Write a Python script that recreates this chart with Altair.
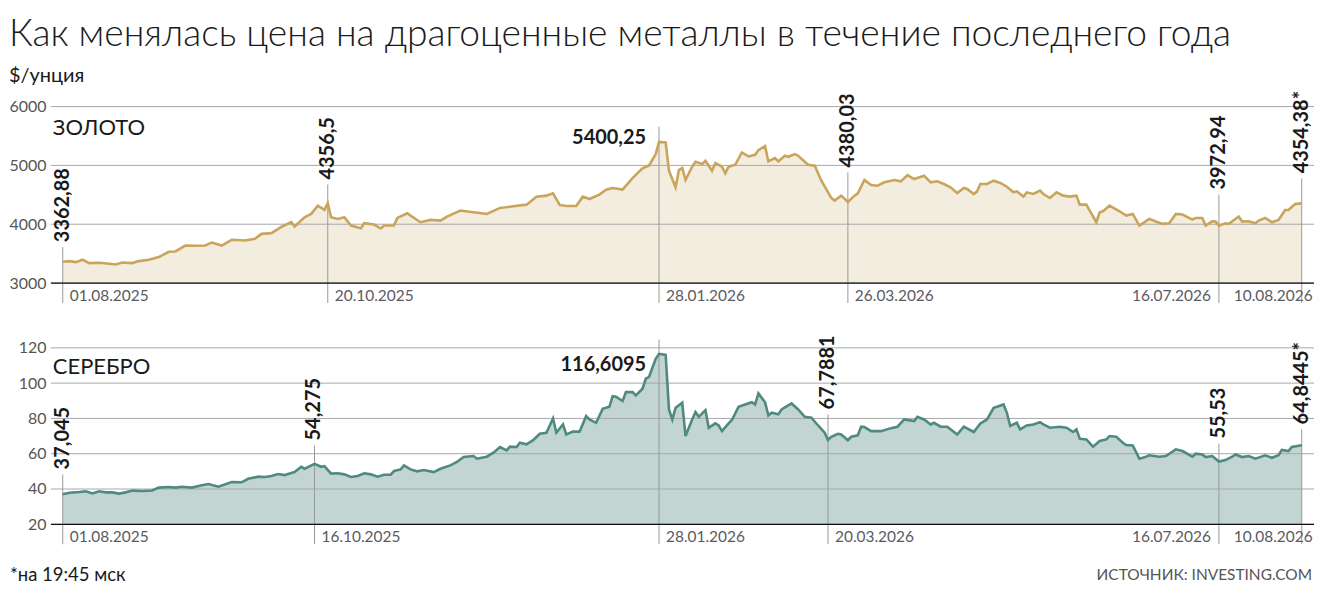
import altair as alt
import pandas as pd

# ---------------- data ----------------
GOLD_DATES = [
    "2025-08-01", "2025-08-03", "2025-08-05", "2025-08-07", "2025-08-09", "2025-08-12", "2025-08-15",
    "2025-08-17", "2025-08-19", "2025-08-22", "2025-08-24", "2025-08-27", "2025-08-30", "2025-09-02",
    "2025-09-04", "2025-09-07", "2025-09-10", "2025-09-13", "2025-09-15", "2025-09-18", "2025-09-21",
    "2025-09-25", "2025-09-28", "2025-09-30", "2025-10-03", "2025-10-06", "2025-10-09", "2025-10-10",
    "2025-10-13", "2025-10-15", "2025-10-17", "2025-10-19", "2025-10-20", "2025-10-21", "2025-10-23",
    "2025-10-25", "2025-10-27", "2025-10-30", "2025-10-31", "2025-11-03", "2025-11-05", "2025-11-06",
    "2025-11-09", "2025-11-10", "2025-11-13", "2025-11-14", "2025-11-17", "2025-11-20", "2025-11-23",
    "2025-11-25", "2025-11-29", "2025-12-03", "2025-12-07", "2025-12-11", "2025-12-15", "2025-12-19",
    "2025-12-22", "2025-12-25", "2025-12-27", "2025-12-29", "2025-12-31", "2026-01-03", "2026-01-05",
    "2026-01-07", "2026-01-10", "2026-01-12", "2026-01-14", "2026-01-17", "2026-01-20", "2026-01-23",
    "2026-01-25", "2026-01-27", "2026-01-28", "2026-01-30", "2026-01-31", "2026-02-02", "2026-02-03",
    "2026-02-04", "2026-02-05", "2026-02-07", "2026-02-08", "2026-02-10", "2026-02-11", "2026-02-13",
    "2026-02-14", "2026-02-16", "2026-02-17", "2026-02-18", "2026-02-20", "2026-02-22", "2026-02-24",
    "2026-02-26", "2026-02-27", "2026-03-01", "2026-03-02", "2026-03-04", "2026-03-05", "2026-03-07",
    "2026-03-08", "2026-03-10", "2026-03-11", "2026-03-14", "2026-03-16", "2026-03-18", "2026-03-21",
    "2026-03-22", "2026-03-24", "2026-03-26", "2026-03-28", "2026-03-29", "2026-03-31", "2026-04-02",
    "2026-04-04", "2026-04-06", "2026-04-09", "2026-04-11", "2026-04-13", "2026-04-15", "2026-04-18",
    "2026-04-20", "2026-04-22", "2026-04-24", "2026-04-26", "2026-04-28", "2026-04-30", "2026-05-01",
    "2026-05-03", "2026-05-04", "2026-05-05", "2026-05-07", "2026-05-09", "2026-05-11", "2026-05-13",
    "2026-05-15", "2026-05-16", "2026-05-18", "2026-05-19", "2026-05-21", "2026-05-23", "2026-05-24",
    "2026-05-26", "2026-05-28", "2026-05-30", "2026-06-01", "2026-06-03", "2026-06-04", "2026-06-06",
    "2026-06-07", "2026-06-09", "2026-06-10", "2026-06-11", "2026-06-13", "2026-06-16", "2026-06-18",
    "2026-06-20", "2026-06-22", "2026-06-25", "2026-06-27", "2026-06-29", "2026-07-01", "2026-07-03",
    "2026-07-05", "2026-07-08", "2026-07-09", "2026-07-11", "2026-07-12", "2026-07-14", "2026-07-15",
    "2026-07-16", "2026-07-18", "2026-07-19", "2026-07-22", "2026-07-23", "2026-07-25", "2026-07-27",
    "2026-07-28", "2026-07-30", "2026-08-01", "2026-08-03", "2026-08-05", "2026-08-06", "2026-08-08",
    "2026-08-10",
]
GOLD_VALUES = [
    3362.88, 3373, 3356, 3396, 3339, 3345, 3328,
    3316, 3350, 3339, 3373, 3396, 3441, 3531,
    3537, 3638, 3633, 3638, 3689, 3638, 3735,
    3723, 3751, 3836, 3848, 3955, 4034, 3961,
    4119, 4175, 4316, 4243, 4356.5, 4119, 4090,
    4119, 3977, 3932, 4017, 3994, 3927, 3977,
    3977, 4107, 4187, 4147, 4034, 4074, 4062,
    4130, 4232, 4203, 4175, 4277, 4305, 4333,
    4469, 4486, 4526, 4328, 4311, 4311, 4469,
    4429, 4503, 4588, 4616, 4588, 4785, 4949,
    5000, 5192, 5400.25, 5390, 4910, 4627, 4921,
    4955, 4752, 4978, 5062, 5023, 5079, 4910,
    5040, 4978, 4864, 4978, 5011, 5220, 5153,
    5181, 5260, 5328, 5068, 5124, 5068, 5164,
    5147, 5192, 5164, 5011, 4994, 4740, 4446,
    4401, 4486, 4380.03, 4486, 4526, 4752, 4667,
    4655, 4712, 4752, 4729, 4836, 4768, 4825,
    4712, 4729, 4684, 4627, 4531, 4616, 4599,
    4514, 4559, 4684, 4684, 4740, 4701, 4638,
    4542, 4559, 4469, 4542, 4514, 4571, 4514,
    4446, 4542, 4486, 4469, 4486, 4333, 4333,
    4232, 4034, 4203, 4220, 4316, 4220, 4147,
    4175, 3977, 4090, 4045, 4006, 4017, 4175,
    4164, 4079, 4107, 4107, 3977, 4051, 4045,
    3972.94, 4017, 4006, 4130, 4045, 4051, 4017,
    4062, 4107, 4034, 4074, 4243, 4243, 4345,
    4354.38,
]

SILVER_DATES = [
    "2025-08-01", "2025-08-03", "2025-08-06", "2025-08-08", "2025-08-10", "2025-08-12", "2025-08-14",
    "2025-08-16", "2025-08-18", "2025-08-20", "2025-08-22", "2025-08-25", "2025-08-28", "2025-08-30",
    "2025-09-02", "2025-09-04", "2025-09-06", "2025-09-09", "2025-09-12", "2025-09-14", "2025-09-17",
    "2025-09-21", "2025-09-24", "2025-09-26", "2025-09-29", "2025-10-01", "2025-10-03", "2025-10-05",
    "2025-10-07", "2025-10-09", "2025-10-10", "2025-10-12", "2025-10-13", "2025-10-16", "2025-10-18",
    "2025-10-19", "2025-10-21", "2025-10-23", "2025-10-25", "2025-10-27", "2025-10-29", "2025-10-31",
    "2025-11-02", "2025-11-04", "2025-11-06", "2025-11-08", "2025-11-09", "2025-11-11", "2025-11-12",
    "2025-11-14", "2025-11-16", "2025-11-18", "2025-11-21", "2025-11-23", "2025-11-26", "2025-11-28",
    "2025-11-30", "2025-12-03", "2025-12-04", "2025-12-07", "2025-12-09", "2025-12-11", "2025-12-13",
    "2025-12-14", "2025-12-16", "2025-12-17", "2025-12-19", "2025-12-21", "2025-12-23", "2025-12-25",
    "2025-12-27", "2025-12-28", "2025-12-30", "2025-12-31", "2026-01-02", "2026-01-04", "2026-01-06",
    "2026-01-07", "2026-01-09", "2026-01-11", "2026-01-13", "2026-01-14", "2026-01-15", "2026-01-17",
    "2026-01-18", "2026-01-20", "2026-01-21", "2026-01-23", "2026-01-24", "2026-01-25", "2026-01-27",
    "2026-01-28", "2026-01-30", "2026-01-31", "2026-02-01", "2026-02-02", "2026-02-04", "2026-02-05",
    "2026-02-07", "2026-02-08", "2026-02-09", "2026-02-11", "2026-02-12", "2026-02-14", "2026-02-15",
    "2026-02-16", "2026-02-18", "2026-02-19", "2026-02-21", "2026-02-23", "2026-02-25", "2026-02-26",
    "2026-02-27", "2026-03-01", "2026-03-02", "2026-03-03", "2026-03-05", "2026-03-06", "2026-03-09",
    "2026-03-11", "2026-03-13", "2026-03-15", "2026-03-17", "2026-03-19", "2026-03-20", "2026-03-21",
    "2026-03-23", "2026-03-24", "2026-03-26", "2026-03-27", "2026-03-29", "2026-03-30", "2026-03-31",
    "2026-04-02", "2026-04-05", "2026-04-08", "2026-04-10", "2026-04-12", "2026-04-15", "2026-04-16",
    "2026-04-18", "2026-04-20", "2026-04-21", "2026-04-23", "2026-04-25", "2026-04-28", "2026-04-30",
    "2026-05-03", "2026-05-05", "2026-05-07", "2026-05-09", "2026-05-10", "2026-05-12", "2026-05-13",
    "2026-05-14", "2026-05-16", "2026-05-17", "2026-05-19", "2026-05-21", "2026-05-23", "2026-05-24",
    "2026-05-26", "2026-05-29", "2026-05-31", "2026-06-02", "2026-06-03", "2026-06-04", "2026-06-06",
    "2026-06-08", "2026-06-10", "2026-06-12", "2026-06-13", "2026-06-15", "2026-06-17", "2026-06-18",
    "2026-06-20", "2026-06-22", "2026-06-24", "2026-06-25", "2026-06-28", "2026-06-30", "2026-07-03",
    "2026-07-05", "2026-07-08", "2026-07-09", "2026-07-11", "2026-07-12", "2026-07-14", "2026-07-16",
    "2026-07-18", "2026-07-20", "2026-07-21", "2026-07-23", "2026-07-25", "2026-07-27", "2026-07-30",
    "2026-08-01", "2026-08-03", "2026-08-04", "2026-08-06", "2026-08-07", "2026-08-10",
]
SILVER_VALUES = [
    37.045, 37.9, 38.3, 38.7, 37.5, 38.7, 38.1,
    38.1, 37.4, 38.1, 39.1, 38.9, 39.2, 40.8,
    41.1, 40.8, 41.3, 40.8, 42.1, 42.8, 41.3,
    44.0, 43.8, 45.8, 47.0, 46.8, 47.4, 48.5,
    47.9, 49.1, 49.6, 52.6, 51.5, 54.275, 52.6,
    53.0, 48.7, 48.9, 48.3, 46.8, 47.4, 48.9,
    48.3, 47.0, 48.1, 48.1, 50.2, 51.1, 53.4,
    51.1, 50.0, 50.8, 49.6, 51.5, 53.4, 55.3,
    58.1, 58.7, 57.2, 58.3, 60.6, 63.8, 61.9,
    64.0, 63.8, 66.2, 65.3, 67.7, 71.3, 71.9,
    80.0, 71.9, 76.6, 70.9, 72.5, 72.5, 81.3,
    79.4, 77.5, 85.5, 86.6, 92.6, 92.3, 89.8,
    94.9, 94.9, 93.0, 96.8, 102.5, 103.6, 113.8,
    116.6095, 116.0, 85.1, 79.4, 86.0, 88.9, 70.0,
    79.4, 83.6, 80.9, 84.7, 74.7, 77.2, 76.0,
    72.8, 77.2, 79.1, 86.6, 87.9, 89.2, 87.9,
    94.2, 89.2, 81.7, 83.2, 82.3, 85.1, 88.5,
    85.1, 80.9, 80.4, 76.0, 71.9, 67.7881, 69.6,
    71.3, 70.9, 67.7, 69.6, 70.4, 75.3, 75.1,
    72.8, 72.8, 74.5, 75.3, 79.4, 78.5, 80.9,
    79.4, 76.6, 77.5, 75.3, 75.3, 70.9, 75.3,
    72.3, 77.2, 79.4, 86.0, 86.6, 87.9, 83.2,
    75.7, 77.5, 73.8, 76.0, 76.6, 77.9, 76.6,
    74.7, 75.3, 74.7, 72.3, 73.8, 68.5, 68.1,
    64.0, 67.2, 68.1, 70.0, 69.6, 66.2, 64.9,
    64.7, 57.2, 58.3, 59.1, 58.3, 58.7, 62.5,
    61.5, 58.3, 60.0, 59.6, 58.1, 58.7, 55.53,
    56.4, 58.3, 59.6, 58.1, 58.7, 57.2, 59.1,
    57.7, 59.1, 62.1, 61.5, 63.8, 64.8445,
]

# annotated points
GOLD_KEY_DATES = ["2025-08-01", "2025-10-20", "2026-01-28", "2026-03-26", "2026-07-16", "2026-08-10"]
GOLD_KEY_VALUES = [3362.88, 4356.5, 5400.25, 4380.03, 3972.94, 4354.38]
GOLD_KEY_TOPS = [3610, 4675, 5660, 4880, 4505, 4780]      # where each leader line ends

SILVER_KEY_DATES = ["2025-08-01", "2025-10-16", "2026-01-28", "2026-03-20", "2026-07-16", "2026-08-10"]
SILVER_KEY_VALUES = [37.045, 54.275, 116.6095, 67.7881, 55.53, 64.8445]
SILVER_KEY_TOPS = [48.3, 64.7, 124.7, 82.3, 65.8, 73.8]

GOLD_TICKS = [3000, 4000, 5000, 6000]
SILVER_TICKS = [20, 40, 60, 80, 100, 120]

TITLE = "Как менялась цена на драгоценные металлы в течение последнего года"
SUBTITLE = "$/унция"
GOLD_NAME = "ЗОЛОТО"
SILVER_NAME = "СЕРЕБРО"
NOTE = "*на 19:45 мск"
SOURCE = "ИСТОЧНИК: INVESTING.COM"

# ---------------- layout / style ----------------
W, H = 1267, 177
FONT = "Lato"
XDOMAIN = [alt.DateTime(year=2025, month=7, date=28, hours=10, utc=True),
           alt.DateTime(year=2026, month=8, date=13, hours=17, utc=True)]


def fmt_num(v):
    return str(v).replace(".", ",")


def fmt_date(s):
    y, m, d = s.split("-")
    return f"{d}.{m}.{y}"


def panel(name, dates, values, kdates, kvalues, ktops, ticks, line_color, fill_color,
          peak_baseline, peak_dy, name_y, footer=False):
    df = pd.DataFrame({"date": dates, "value": values})
    n = len(kdates)
    peak = kvalues.index(max(kvalues))
    kdf = pd.DataFrame({
        "date": kdates,
        "value": kvalues,
        "top": ktops,
        "label": [fmt_num(v) + ("*" if i == n - 1 else "") for i, v in enumerate(kvalues)],
        "dlabel": [fmt_date(s) for s in kdates],
        "kind": ["h" if i == peak else "v" for i in range(n)],
        "dpos": ["l"] * (n - 2) + ["r", "e"],
    })
    tdf = pd.DataFrame({"v": ticks})
    bdf = pd.DataFrame({"v": [ticks[0]]})

    x = alt.X("date:T", scale=alt.Scale(type="utc", domain=XDOMAIN), axis=None)
    yscale = alt.Scale(domain=[ticks[0], ticks[-1]], nice=False, zero=False)
    yaxis = alt.Axis(values=ticks, grid=False, domain=False, ticks=False, format="d",
                     labelOverlap=False, labelFontSize=16, labelColor="#555555",
                     labelFont=FONT, labelPadding=5, title=None)

    def Y(field):
        return alt.Y(field, scale=yscale, axis=yaxis, title=None)

    area = alt.Chart(df).mark_area(color=fill_color).encode(
        x=x, y=Y("value:Q"), y2=alt.datum(ticks[0]))
    grid = alt.Chart(tdf).mark_rule(color="#a8a8a8", strokeWidth=1).encode(y=Y("v:Q"))
    leaders = alt.Chart(kdf).mark_rule(color="#9a9a9a", strokeWidth=1).encode(
        x=x, y=Y("top:Q"), y2=alt.value(H + 20))
    base = alt.Chart(bdf).mark_rule(color="#111111", strokeWidth=1.3).encode(y=Y("v:Q"))
    line = alt.Chart(df).mark_line(color=line_color, strokeWidth=2.6).encode(
        x=x, y=Y("value:Q"))

    vlabels = alt.Chart(kdf).transform_filter(alt.datum.kind == "v").mark_text(
        angle=270, align="left", baseline="middle", dx=5, font=FONT, fontSize=20,
        fontWeight="bold", color="#1a1a1a").encode(x=x, y=Y("top:Q"), text="label:N")
    hlabel = alt.Chart(kdf).transform_filter(alt.datum.kind == "h").mark_text(
        align="right", baseline=peak_baseline, dx=-13, dy=peak_dy, font=FONT, fontSize=20,
        fontWeight="bold", color="#1a1a1a").encode(x=x, y=Y("value:Q"), text="label:N")

    dstyle = dict(baseline="middle", font=FONT, fontSize=15.5, color="#5a5a62")
    d_left = alt.Chart(kdf).transform_filter(alt.datum.dpos == "l").mark_text(
        align="left", dx=7, **dstyle).encode(x=x, y=alt.value(H + 13), text="dlabel:N")
    d_right = alt.Chart(kdf).transform_filter(alt.datum.dpos == "r").mark_text(
        align="right", dx=-8, **dstyle).encode(x=x, y=alt.value(H + 13), text="dlabel:N")
    d_end = alt.Chart(kdf).transform_filter(alt.datum.dpos == "e").mark_text(
        align="right", dx=11, **dstyle).encode(x=x, y=alt.value(H + 13), text="dlabel:N")

    ndf = pd.DataFrame({"t": [name]})
    name_txt = alt.Chart(ndf).mark_text(
        align="left", baseline="middle", font=FONT, fontSize=22, color="#1a1a1a").encode(
        x=alt.value(2), y=alt.value(name_y), text="t:N")

    layers = [area, grid, leaders, base, line, vlabels, hlabel, d_left, d_right, d_end, name_txt]

    if footer:
        fdf = pd.DataFrame({"t": [NOTE]})
        sdf = pd.DataFrame({"t": [SOURCE]})
        note = alt.Chart(fdf).mark_text(
            align="left", baseline="middle", font=FONT, fontSize=18.5, color="#1a1a1a").encode(
            x=alt.value(-41), y=alt.value(H + 51), text="t:N")
        src = alt.Chart(sdf).mark_text(
            align="right", baseline="middle", font=FONT, fontSize=15.5, color="#555555").encode(
            x=alt.value(W - 2), y=alt.value(H + 51), text="t:N")
        layers += [note, src]

    return alt.layer(*layers).properties(width=W, height=H)


gold = panel(GOLD_NAME, GOLD_DATES, GOLD_VALUES, GOLD_KEY_DATES, GOLD_KEY_VALUES, GOLD_KEY_TOPS,
             GOLD_TICKS, "#c9a55c", "#f3eddf", "alphabetic", 2, 22)
silver = panel(SILVER_NAME, SILVER_DATES, SILVER_VALUES, SILVER_KEY_DATES, SILVER_KEY_VALUES,
               SILVER_KEY_TOPS, SILVER_TICKS, "#4f8a80", "#c2d5d2", "top", 1, 19, footer=True)

chart = alt.vconcat(gold, silver, spacing=65, bounds="flush").properties(
    padding={"top": 7, "left": 0, "right": 0, "bottom": 0},
    title=alt.TitleParams(
        text=TITLE, subtitle=SUBTITLE, anchor="start", font=FONT, fontSize=37.3,
        fontWeight=300, color="#1a1a1a", subtitleFont=FONT, subtitleFontSize=20,
        subtitleColor="#1a1a1a", subtitlePadding=12, offset=3.5, limit=1310),
).configure_view(strokeWidth=0).configure_axisY(labelOverlap=False)

chart.save("out.html", embed_options={"renderer": "svg", "actions": False})
